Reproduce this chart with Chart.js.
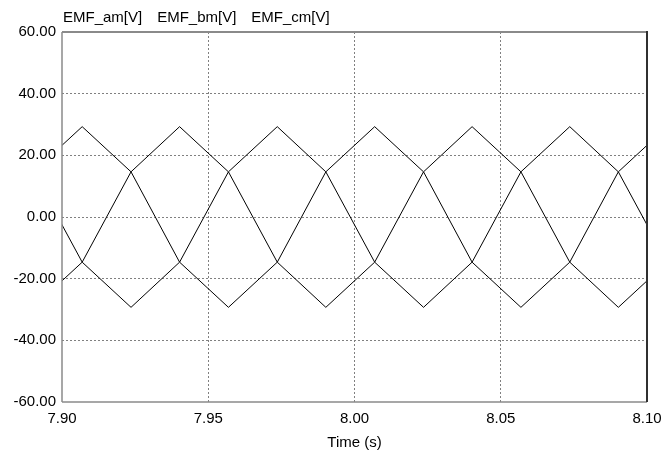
<!DOCTYPE html>
<html>
<head>
<meta charset="utf-8">
<script src="https://cdn.jsdelivr.net/npm/chart.js@4.4.0/dist/chart.umd.min.js"></script>
<style>
  html, body { margin: 0; padding: 0; background: #ffffff; }
  #wrap { width: 663px; height: 452px; position: relative; }
</style>
</head>
<body>
<div id="wrap"><canvas id="c" width="663" height="452"></canvas></div>
<script>
// Breakpoint times (s) of the piecewise-linear EMF waveforms
const times = [7.8902, 7.9069, 7.9236, 7.9402, 7.9569, 7.9736, 7.9902, 8.0069, 8.0236, 8.0402, 8.0569, 8.0736, 8.0902, 8.1069];
// Series values (V)
const emfA = [14.65, 29.3, 14.65, -14.65, -29.3, -14.65, 14.65, 29.3, 14.65, -14.65, -29.3, -14.65, 14.65, 29.3];
const emfB = [-29.3, -14.65, 14.65, 29.3, 14.65, -14.65, -29.3, -14.65, 14.65, 29.3, 14.65, -14.65, -29.3, -14.65];
const emfC = [14.65, -14.65, -29.3, -14.65, 14.65, 29.3, 14.65, -14.65, -29.3, -14.65, 14.65, 29.3, 14.65, -14.65];
const seriesNames = ['EMF_am[V]', 'EMF_bm[V]', 'EMF_cm[V]'];
const xTicks = [7.90, 7.95, 8.00, 8.05, 8.10];
const yTicks = [-60, -40, -20, 0, 20, 40, 60];
const xTitle = 'Time (s)';

const FONT = '"Liberation Sans", Arial, sans-serif';

function toPts(vals) { return times.map((t, i) => ({ x: t, y: vals[i] })); }

const frameAndLegend = {
  id: 'frameAndLegend',
  afterDraw(chart) {
    const { ctx, chartArea: a } = chart;
    ctx.save();
    ctx.lineCap = 'butt';
    ctx.strokeStyle = '#8a8a8a';
    ctx.lineWidth = 2;
    ctx.beginPath(); ctx.moveTo(a.left, a.top); ctx.lineTo(a.right, a.top); ctx.stroke();
    ctx.lineWidth = 1.5;
    ctx.beginPath(); ctx.moveTo(a.left, a.top); ctx.lineTo(a.left, a.bottom); ctx.stroke();
    ctx.beginPath(); ctx.moveTo(a.left, a.bottom); ctx.lineTo(a.right, a.bottom); ctx.stroke();
    ctx.strokeStyle = '#303030';
    ctx.lineWidth = 2;
    ctx.beginPath(); ctx.moveTo(a.right, a.top - 1); ctx.lineTo(a.right, a.bottom); ctx.stroke();
    ctx.fillStyle = '#000';
    ctx.font = '15px ' + FONT;
    ctx.textBaseline = 'alphabetic';
    ctx.textAlign = 'left';
    let x = a.left + 1;
    chart.data.datasets.forEach(ds => {
      ctx.fillText(ds.label, x, 22);
      x += ctx.measureText(ds.label).width + 15;
    });
    ctx.restore();
  }
};

const mkDs = (name, vals) => ({
  label: name,
  data: toPts(vals),
  borderColor: '#000000',
  borderWidth: 1,
  pointRadius: 0,
  fill: false,
  tension: 0
});

new Chart(document.getElementById('c'), {
  type: 'line',
  data: {
    datasets: [
      mkDs(seriesNames[0], emfA),
      mkDs(seriesNames[1], emfB),
      mkDs(seriesNames[2], emfC)
    ]
  },
  options: {
    responsive: false,
    animation: false,
    devicePixelRatio: 1,
    layout: { padding: { top: 32, right: 16, left: 0, bottom: 0 } },
    plugins: { legend: { display: false }, tooltip: { enabled: false }, title: { display: false } },
    scales: {
      x: {
        type: 'linear',
        min: xTicks[0],
        max: xTicks[xTicks.length - 1],
        afterBuildTicks: s => { s.ticks = xTicks.map(v => ({ value: v })); },
        afterFit: s => { s.height = 50; s.paddingLeft = 0; s.paddingRight = 0; },
        border: { display: false, dash: [2, 2] },
        grid: {
          drawTicks: false,
          color: c => (c.index === 0 || c.index === xTicks.length - 1) ? 'rgba(0,0,0,0)' : '#808080',
          lineWidth: 1
        },
        ticks: {
          padding: 8,
          color: '#000',
          font: { family: FONT, size: 15 },
          maxRotation: 0,
          callback: v => Number(v).toFixed(2)
        },
        title: {
          display: true,
          text: xTitle,
          color: '#000',
          font: { family: FONT, size: 15 },
          padding: { top: 2, bottom: 0 }
        }
      },
      y: {
        type: 'linear',
        min: yTicks[0],
        max: yTicks[yTicks.length - 1],
        afterBuildTicks: s => { s.ticks = yTicks.map(v => ({ value: v })); },
        afterFit: s => { s.width = 62; s.paddingTop = 0; s.paddingBottom = 0; },
        border: { display: false, dash: [2, 2] },
        grid: {
          drawTicks: false,
          color: c => (c.index === 0 || c.index === yTicks.length - 1) ? 'rgba(0,0,0,0)' : '#808080',
          lineWidth: 1
        },
        ticks: {
          padding: 6,
          color: '#000',
          font: { family: FONT, size: 15 },
          callback: v => Number(v).toFixed(2)
        }
      }
    }
  },
  plugins: [frameAndLegend]
});
</script>
</body>
</html>
